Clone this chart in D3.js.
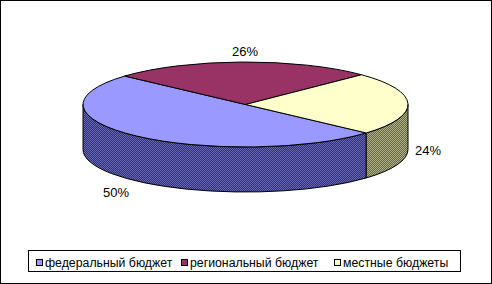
<!DOCTYPE html>
<html>
<head>
<meta charset="utf-8">
<script src="https://cdn.jsdelivr.net/npm/d3@7"></script>
<style>
  body { margin: 0; background: #fff; }
  text { font-family: "Liberation Sans", Arial, sans-serif; font-size: 13px; fill: #000; }
  .item text { font-size: 12.3px; }
</style>
</head>
<body>
<div id="chart"></div>
<script>
// data
var categories = ["федеральный бюджет", "региональный бюджет", "местные бюджеты"];
var shares = [50, 26, 24];
var labels = ["50%", "26%", "24%"];
var topColors = ["#9999FF", "#993366", "#FFFFCC"];
var sideColors = [["#30307a", "#6666b3"], ["#4d1933", "#80405f"], ["#66664f", "#b0b088"]];

var width = 492, height = 284;

// pie geometry
var cx = 245.5, cy = 104.5, rx = 162.5, ry = 42.5, depth = 45;
var firstAngle = 132 * Math.PI / 180;

var svg = d3.select("#chart").append("svg")
    .attr("width", width)
    .attr("height", height);

// outer frame
svg.append("rect")
    .attr("x", 0.5).attr("y", 0.5)
    .attr("width", width - 1).attr("height", height - 1)
    .attr("fill", "#fff").attr("stroke", "#000");

// dither patterns for the walls
var defs = svg.append("defs");
sideColors.forEach(function(c, i) {
  var p = defs.append("pattern")
      .attr("id", "side" + i)
      .attr("patternUnits", "userSpaceOnUse")
      .attr("width", 2).attr("height", 2);
  p.append("rect").attr("width", 2).attr("height", 2).attr("fill", c[0]);
  p.append("rect").attr("width", 1).attr("height", 1).attr("fill", c[1]);
  p.append("rect").attr("x", 1).attr("y", 1).attr("width", 1).attr("height", 1).attr("fill", c[1]);
});

var pie = d3.pie().sort(null)
    .startAngle(firstAngle)
    .endAngle(firstAngle + 2 * Math.PI);
var arcs = pie(shares);

// angle measured clockwise from 12 o'clock
function pt(a, dy) {
  return [cx + rx * Math.sin(a), cy - ry * Math.cos(a) + (dy || 0)];
}

function wallPath(a0, a1) {
  var large = (a1 - a0) > Math.PI ? 1 : 0;
  var p0 = pt(a0), p1 = pt(a1), q1 = pt(a1, depth), q0 = pt(a0, depth);
  return "M" + p0 + "A" + rx + "," + ry + " 0 " + large + " 1 " + p1 +
         "L" + q1 + "A" + rx + "," + ry + " 0 " + large + " 0 " + q0 + "Z";
}

function topPath(a0, a1) {
  var large = (a1 - a0) > Math.PI ? 1 : 0;
  return "M" + [cx, cy] + "L" + pt(a0) + "A" + rx + "," + ry + " 0 " + large + " 1 " + pt(a1) + "Z";
}

// visible walls: the front half, from 90deg to 270deg (mod 360)
var walls = [];
arcs.forEach(function(d, i) {
  [0, 2 * Math.PI].forEach(function(off) {
    var a0 = Math.max(d.startAngle, Math.PI / 2 + off);
    var a1 = Math.min(d.endAngle, 3 * Math.PI / 2 + off);
    if (a1 > a0) walls.push({a0: a0, a1: a1, i: i});
  });
});

var g = svg.append("g");

g.selectAll(".wall")
    .data(walls)
    .enter().append("path")
    .attr("class", "wall")
    .attr("d", function(d) { return wallPath(d.a0, d.a1); })
    .attr("fill", function(d) { return "url(#side" + d.i + ")"; })
    .attr("stroke", "#000")
    .attr("stroke-width", 1);

g.selectAll(".slice")
    .data(arcs)
    .enter().append("path")
    .attr("class", "slice")
    .attr("d", function(d) { return topPath(d.startAngle, d.endAngle); })
    .attr("fill", function(d, i) { return topColors[i]; })
    .attr("stroke", "#000")
    .attr("stroke-width", 1);

// percent labels
var labelPos = [[116, 192], [245, 51], [428, 150]];
g.selectAll(".pct")
    .data(arcs)
    .enter().append("text")
    .attr("class", "pct")
    .attr("x", function(d, i) { return labelPos[i][0]; })
    .attr("y", function(d, i) { return labelPos[i][1]; })
    .attr("dy", "0.35em")
    .attr("text-anchor", "middle")
    .text(function(d, i) { return labels[i]; });

// legend
var legend = svg.append("g");
legend.append("rect")
    .attr("x", 28.5).attr("y", 250.5)
    .attr("width", 432).attr("height", 21)
    .attr("fill", "#fff").attr("stroke", "#000");

var legendX = [36, 181, 334];
var items = legend.selectAll(".item")
    .data(categories)
    .enter().append("g")
    .attr("class", "item")
    .attr("transform", function(d, i) { return "translate(" + legendX[i] + ",0)"; });

items.append("rect")
    .attr("x", 0.5).attr("y", 259.5)
    .attr("width", 6).attr("height", 6)
    .attr("fill", function(d, i) { return topColors[i]; })
    .attr("stroke", "#000");

items.append("text")
    .attr("x", 9)
    .attr("y", 262.5)
    .attr("dy", "0.35em")
    .text(function(d) { return d; });
</script>
</body>
</html>
